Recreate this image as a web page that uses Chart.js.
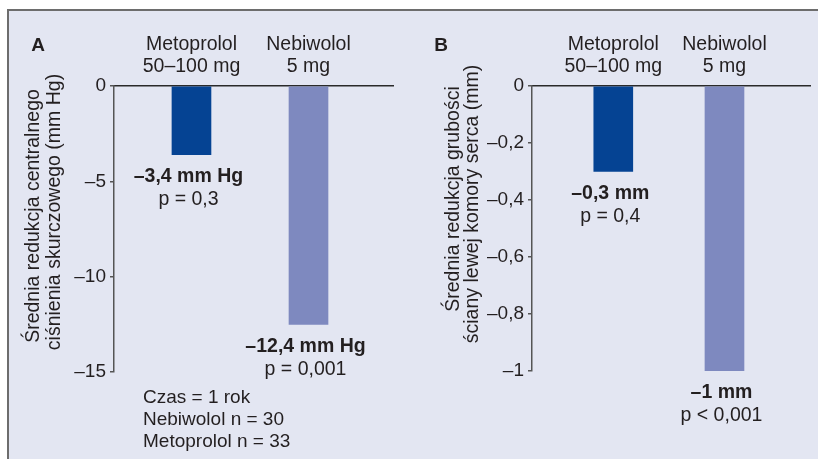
<!DOCTYPE html>
<html lang="pl">
<head>
<meta charset="utf-8">
<script src="https://cdn.jsdelivr.net/npm/chart.js@4"></script>
<style>
    body { margin: 0; background: #ffffff; }
    #ramka {
        position: absolute; left: 7px; top: 9px; width: 811px; height: 450px;
        background: #e3e6f2;
        border-top: 2px solid #6d6d6d;
        border-left: 2px solid #6d6d6d;
        box-sizing: border-box;
    }
    canvas { position: absolute; top: 0; }
    #wykresA { left: 0; }
    #wykresB { left: 409px; }
</style>
</head>
<body>
<div id="ramka"></div>
<canvas id="wykresA" width="409" height="459"></canvas>
<canvas id="wykresB" width="409" height="459"></canvas>
<script>
// ============================
// DANE
// ============================

const kategorie = [["Metoprolol", "50–100 mg"], ["Nebiwolol", "5 mg"]];

const wartosciA = [-3.6, -12.5];
const etykietyA = ["–3,4 mm Hg", "–12,4 mm Hg"];
const pA = ["p = 0,3", "p = 0,001"];
const tytulA = ["Średnia redukcja centralnego", "ciśnienia skurczowego (mm Hg)"];
const przypisA = ["Czas = 1 rok", "Nebiwolol n = 30", "Metoprolol n = 33"];

const wartosciB = [-0.3, -1.0];
const etykietyB = ["–0,3 mm", "–1 mm"];
const pB = ["p = 0,4", "p < 0,001"];
const tytulB = ["Średnia redukcja grubości", "ściany lewej komory serca (mm)"];

const kolory = ["#054393", "#7e89bf"];
const czcionka = "'Liberation Sans', Arial, Helvetica, sans-serif";
const tekst = "#231f20";


// ============================
// OPISY (plugin)
// ============================

function opisy(litera, etykiety, pWartosci, tytul, tytulPoz, przypis) {
    return {
        id: "opisy",
        afterDraw(chart) {
            const ctx = chart.ctx;
            ctx.save();
            ctx.fillStyle = tekst;
            ctx.textBaseline = "middle";

            // litera panelu
            ctx.textAlign = "center";
            ctx.font = "bold 19px " + czcionka;
            ctx.fillText(litera.tekst, litera.x, 46);

            // wartości pod słupkami
            const meta = chart.getDatasetMeta(0);
            meta.data.forEach((bar, i) => {
                ctx.font = "bold 19.5px " + czcionka;
                ctx.fillText(etykiety[i], bar.x - 3, bar.y + 22);
                ctx.font = "19.5px " + czcionka;
                ctx.fillText(pWartosci[i], bar.x - 3, bar.y + 45);
            });

            // tytuł osi Y (dwie linie, obrócone)
            ctx.font = "19.5px " + czcionka;
            tytul.forEach((linia, i) => {
                ctx.save();
                ctx.translate(tytulPoz[i][0], tytulPoz[i][1]);
                ctx.rotate(-Math.PI / 2);
                ctx.fillText(linia, 0, 0);
                ctx.restore();
            });

            // przypis
            ctx.textAlign = "left";
            ctx.font = "19px " + czcionka;
            przypis.forEach((linia, i) => {
                ctx.fillText(linia, 143, 398 + i * 22);
            });

            ctx.restore();
        }
    };
}


// ============================
// WYKRES
// ============================

function formatTick(v) {
    if (v === 0) return "0";
    return "–" + String(Math.round(Math.abs(v) * 10) / 10).replace(".", ",");
}

function stworzWykres(id, wartosci, osY, osX, padding, plugin) {

    const ctx = document.getElementById(id).getContext("2d");

    return new Chart(ctx, {
        type: "bar",
        data: {
            datasets: [{
                data: wartosci.map((v, i) => ({ x: i + 1, y: v })),
                backgroundColor: kolory,
                barThickness: 39
            }]
        },
        options: {
            responsive: false,
            animation: false,
            devicePixelRatio: 1,
            layout: { padding: padding },
            plugins: {
                legend: { display: false },
                tooltip: { enabled: false }
            },
            scales: {
                x: {
                    type: "linear",
                    position: "top",
                    offset: false,
                    min: osX.min,
                    max: osX.max,
                    afterBuildTicks: s => { s.ticks = kategorie.map((k, i) => ({ value: i + 1 })); },
                    afterFit: s => { s.height = 86; },
                    grid: { display: false, offset: false },
                    border: { display: true, color: "#2a2a2a", width: 1.5 },
                    ticks: {
                        autoSkip: false,
                        maxRotation: 0,
                        padding: 0,
                        color: tekst,
                        font: { family: czcionka, size: 19.5, lineHeight: "22px" },
                        callback: v => kategorie[v - 1]
                    }
                },
                y: {
                    min: osY.min,
                    max: 0,
                    afterFit: s => { s.width = osY.szerokosc; },
                    grid: {
                        drawOnChartArea: false,
                        drawTicks: true,
                        tickLength: 4,
                        color: "#555555",
                        lineWidth: 1.5
                    },
                    border: { display: true, color: "#555555", width: 1.5 },
                    ticks: {
                        stepSize: osY.krok,
                        padding: 4,
                        color: tekst,
                        font: { family: czcionka, size: 19 },
                        callback: formatTick
                    }
                }
            }
        },
        plugins: [plugin]
    });
}

stworzWykres(
    "wykresA", wartosciA,
    { min: -15, krok: 5, szerokosc: 114 },
    { min: 0.338, max: 2.722 },
    { left: 0, top: 0, right: 16, bottom: 87 },
    opisy({ tekst: "A", x: 38 }, etykietyA, pA, tytulA, [[34, 216], [55, 212]], przypisA)
);

stworzWykres(
    "wykresB", wartosciB,
    { min: -1, krok: 0.2, szerokosc: 123 },
    { min: 0.269, max: 2.769 },
    { left: 0, top: 0, right: 8, bottom: 88 },
    opisy({ tekst: "B", x: 32 }, etykietyB, pB, tytulB, [[45, 199], [64, 204]], [])
);
</script>
</body>
</html>
